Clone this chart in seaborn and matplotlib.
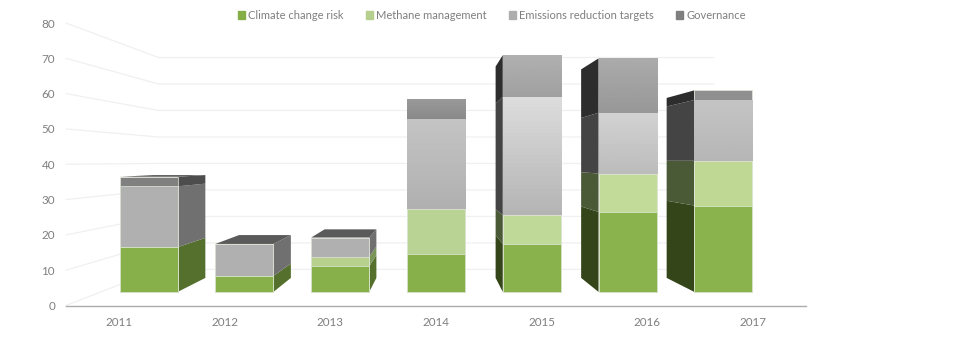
import numpy as np
import pandas as pd
import matplotlib
matplotlib.use('Agg')
import matplotlib.pyplot as plt
from matplotlib.patches import Patch
import seaborn as sns

years = ['2011', '2012', '2013', '2014', '2015', '2016', '2017']
climate = [14, 5, 8, 12, 15, 25, 27]
methane = [0, 0, 3, 14, 9, 12, 14]
targets = [19, 10, 6, 28, 37, 19, 19]
governance = [3, 0, 0, 6, 13, 17, 3]
series_names = ['Climate change risk', 'Methane management', 'Emissions reduction targets', 'Governance']
y_ticks = [0, 10, 20, 30, 40, 50, 60, 70, 80]

# front colours per bar, the 3D lighting changes them from bar to bar
front_colors = [
    ['#88b04a', '#88b04a', '#88b04a', '#88b04a', '#8ab24c', '#8bb34d', '#8bb34d'],
    ['#b7d08d', '#b7d08d', '#b7d08d', '#b9d394', '#bfd998', '#c3db99', '#bfd994'],
    ['#b0b0b0', '#b0b0b0', '#b0b0b0', '#bbbbbb', '#cccccc', '#c8c8c8', '#bebebe'],
    ['#808080', '#808080', '#808080', '#929292', '#a8a8a8', '#a2a2a2', '#8f8f8f'],
]
# grey faces on the later bars fade from top to bottom
fade_targets = {3: ('#c4c4c4', '#b0b0b0'), 4: ('#dcdcdc', '#b4b4b4'), 5: ('#d2d2d2', '#bcbcbc'), 6: ('#c4c4c4', '#b6b6b6')}
fade_gov = {3: ('#999999', '#8a8a8a'), 4: ('#b0b0b0', '#a0a0a0'), 5: ('#ababab', '#989898')}
side_light = ['#55702c', '#7a9559', '#707070', '#4d4d4d']
side_dark = ['#35451a', '#4a5a36', '#444444', '#2d2d2d']
legend_colors = ['#85ae47', '#b5d08e', '#aeaeae', '#7f7f7f']

# fake perspective: everything shrinks towards one vanishing point
vx, vy = 3, 40.9
s_axis, s_front, s_back, s_wall = 1.0, 0.906, 0.809, 0.75
half_w = 0.303


def project(x, v, s):
    return 3 + (x - vx) * s, vy + (v - vy) * s


def hex_grey(c):
    return int(c[1:3], 16) / 255


sns.set_style('white')
plt.rcParams['font.family'] = ['Lato', 'DejaVu Sans']

fig = plt.figure(figsize=(9.8, 3.51), dpi=100)
ax = fig.add_axes([66 / 980, (351 - 305.5) / 351, 740 / 980, 282.5 / 351])

# walls
for t in y_ticks:
    x0, y0 = project(-0.5, t, s_axis)
    x1, y1 = project(-0.5, t, s_wall)
    x2, y2 = project(6.5, t, s_wall)
    ax.plot([x0, x1, x2], [y0, y1, y2], color='#f0f0f0', lw=0.9, zorder=0.5, clip_on=False)

stack = np.cumsum([climate, methane, targets, governance], axis=0)
base = project(0, 0, s_front)[1]
front_x = [project(i, 0, s_front)[0] for i in range(len(years))]

# side faces and roofs
for i in range(len(years)):
    low = 0
    for k in range(4):
        high = stack[k][i]
        if high > low and i != 3:
            edge = i + half_w if i < 3 else i - half_w
            pts = [project(edge, low, s_front), project(edge, high, s_front),
                   project(edge, high, s_back), project(edge, low, s_back)]
            col = side_light[k] if i < 3 else side_dark[k]
            ax.fill(*zip(*pts), color=col, lw=0, zorder=0.9)
        low = high
    if low < vy:
        pts = [project(i - half_w, low, s_front), project(i + half_w, low, s_front),
               project(i + half_w, low, s_back), project(i - half_w, low, s_back)]
        ax.fill(*zip(*pts), color='#5a5a5a', lw=0, zorder=0.95)

# front faces, tallest cumulative first so the lower ones paint over
for k in [3, 2, 1, 0]:
    df = pd.DataFrame({'pos': front_x, 'year': years, 'height': stack[k] * s_front})
    sns.barplot(data=df, x='pos', y='height', hue='year', palette=dict(zip(years, front_colors[k])),
                native_scale=True, dodge=False, width=0.606, saturation=1, bottom=base, errorbar=None,
                legend=False, edgecolor='#e2e8da', linewidth=0.5, ax=ax, zorder=1)

# paint the fades on top of the grey faces
for k, fades in [(2, fade_targets), (3, fade_gov)]:
    for i, (c_top, c_bottom) in fades.items():
        top = project(i, stack[k][i], s_front)[1]
        bottom = project(i, stack[k - 1][i], s_front)[1]
        left = project(i - half_w, 0, s_front)[0]
        right = project(i + half_w, 0, s_front)[0]
        grad = np.linspace(hex_grey(c_top), hex_grey(c_bottom), 32).reshape(-1, 1)
        ax.imshow(grad, extent=[left, right, bottom, top], aspect='auto', cmap='gray',
                  vmin=0, vmax=1, zorder=1.1)

ax.set_xlim(-0.5, 6.5)
ax.set_ylim(0, 80)
ax.set_xticks(range(len(years)))
ax.set_xticklabels(years)
ax.set_yticks(y_ticks)
ax.set_xlabel('')
ax.set_ylabel('')
ax.tick_params(axis='both', length=0, labelcolor='#7f7f7f', labelsize=8.4)
ax.tick_params(axis='x', pad=8)
ax.tick_params(axis='y', pad=8)
ax.patch.set_alpha(0)
for side in ['top', 'left', 'right']:
    ax.spines[side].set_visible(False)
ax.spines['bottom'].set_color('#ababab')
ax.spines['bottom'].set_linewidth(1)

handles = [Patch(color=c, label=n) for c, n in zip(legend_colors, series_names)]
fig.legend(handles=handles, ncol=4, frameon=False, loc='center', bbox_to_anchor=(492 / 980, 1 - 15.5 / 351),
           fontsize=8, labelcolor='#7f7f7f', handlelength=0.62, handleheight=0.62, handletextpad=0.3,
           columnspacing=2.0)

fig.savefig('out.png', dpi=100)
